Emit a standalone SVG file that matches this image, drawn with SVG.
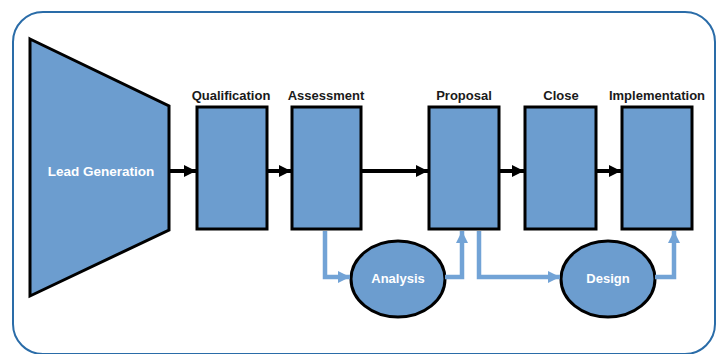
<svg xmlns="http://www.w3.org/2000/svg" width="722" height="354" viewBox="0 0 722 354">
<defs>
<style>
.node{fill:#6c9dcf;stroke:#000;stroke-width:3}
.lbl{font-family:"Liberation Sans",Arial,sans-serif;font-weight:bold;font-size:13px;fill:#1a1a1a;text-anchor:middle}
.wl{font-family:"Liberation Sans",Arial,sans-serif;font-weight:bold;font-size:13px;fill:#fff;text-anchor:middle}
.blk{stroke:#000;stroke-width:4;fill:none}
.blu{stroke:#72a3d6;stroke-width:4.5;fill:none}
</style>
<marker id="ab" viewBox="0 0 10 10" refX="10" refY="5" markerWidth="3" markerHeight="3" orient="auto" markerUnits="strokeWidth"><path d="M0,0 L10,5 L0,10 Z" fill="#000"/></marker>
<marker id="au" viewBox="0 0 10 10" refX="10" refY="5" markerWidth="2.7" markerHeight="2.7" orient="auto" markerUnits="strokeWidth"><path d="M0,0 L10,5 L0,10 Z" fill="#72a3d6"/></marker>
</defs>
<rect x="13" y="12" width="702" height="342" rx="30" ry="30" fill="#fff" stroke="#2a6ca8" stroke-width="2"/>
<g id="lead"><polygon class="node" points="30,39 169,106 169,230 30,296"/><text class="wl" x="101" y="176" style="font-size:13.5px">Lead Generation</text></g>
<g id="qualification"><rect class="node" x="197" y="107" width="70" height="122"/><text class="lbl" x="231" y="100">Qualification</text></g>
<g id="assessment"><rect class="node" x="292" y="107" width="69" height="122"/><text class="lbl" x="326" y="100">Assessment</text></g>
<g id="proposal"><rect class="node" x="429" y="107" width="70" height="122"/><text class="lbl" x="464" y="100">Proposal</text></g>
<g id="close"><rect class="node" x="525" y="107" width="71" height="122"/><text class="lbl" x="561" y="100">Close</text></g>
<g id="implementation"><rect class="node" x="622" y="107" width="70" height="122"/><text class="lbl" x="657" y="100">Implementation</text></g>
<g id="analysis"><ellipse class="node" cx="398" cy="279" rx="47" ry="38"/><text class="wl" x="398" y="283">Analysis</text></g>
<g id="design"><ellipse class="node" cx="608" cy="279" rx="47" ry="38"/><text class="wl" x="608" y="283">Design</text></g>
<g id="connectors">
<line class="blk" x1="170" y1="171" x2="196" y2="171" marker-end="url(#ab)"/>
<line class="blk" x1="268" y1="171" x2="291" y2="171" marker-end="url(#ab)"/>
<line class="blk" x1="362" y1="171" x2="428" y2="171" marker-end="url(#ab)"/>
<line class="blk" x1="500" y1="171" x2="524" y2="171" marker-end="url(#ab)"/>
<line class="blk" x1="597" y1="171" x2="621" y2="171" marker-end="url(#ab)"/>
<polyline class="blu" points="325,231 325,277 350,277" marker-end="url(#au)"/>
<polyline class="blu" points="445,277 462,277 462,231" marker-end="url(#au)"/>
<polyline class="blu" points="479,231 479,277 560,277" marker-end="url(#au)"/>
<polyline class="blu" points="655,277 674,277 674,231" marker-end="url(#au)"/>
</g>
</svg>
